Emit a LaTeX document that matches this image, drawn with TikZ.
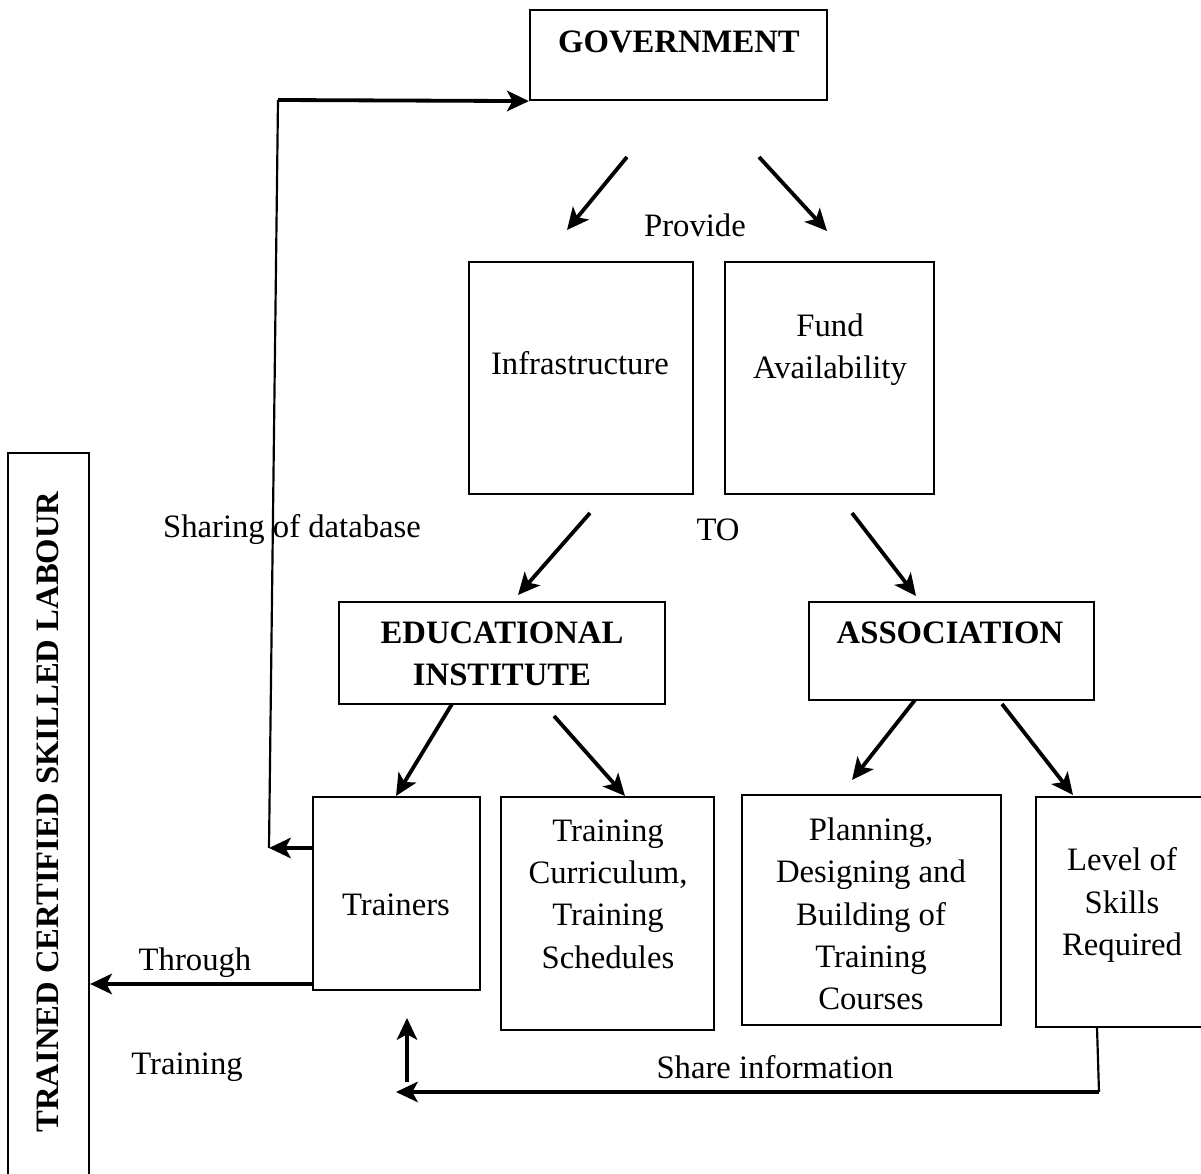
\documentclass[tikz,border=0pt]{standalone}
\usepackage{fontspec}
\setmainfont{Liberation Serif}
\usetikzlibrary{arrows.meta,fit}

\tikzset{
  box/.style={draw, line width=0.8pt, inner sep=0pt},
  txt/.style={align=center, inner sep=0pt, font=\fontsize{12}{15.5}\selectfont},
  headtxt/.style={txt, font=\fontsize{12}{15.5}\selectfont\bfseries},
  arr/.style={line width=1.4pt, -{Stealth[length=8pt,width=7.5pt,inset=2pt]}},
  thin line/.style={line width=0.8pt},
}

\begin{document}
\begin{tikzpicture}[x=0.367pt,y=-0.367pt]
		\useasboundingbox (0,0) rectangle (1201,1174);
		\clip (0,0) rectangle (1201,1174);

		% boxes
		\node [box, fit={(530,10) (827,100)}] (gov) {};
		\node [box, fit={(469,262) (693,494)}] (infra) {};
		\node [box, fit={(725,262) (934,494)}] (fund) {};
		\node [box, fit={(339,602) (665,704)}] (edu) {};
		\node [box, fit={(809,602) (1094,700)}] (assoc) {};
		\node [box, fit={(313,797) (480,990)}] (trainers) {};
		\node [box, fit={(501,797) (714,1030)}] (curric) {};
		\node [box, fit={(742,795) (1001,1025)}] (plan) {};
		\node [box, fit={(1036,797) (1215,1027)}] (level) {};
		\node [box, fit={(8,453) (89,1190)}] (labour) {};

		% texts
		\node [headtxt] (govtxt) at (679,42) {GOVERNMENT};
		\node [txt] (provide) at (695,225) {Provide};
		\node [txt] (infratxt) at (580,363) {Infrastructure};
		\node [txt] (fundtxt) at (830,350) {Fund\\Availability};
		\node [txt] (sharing) at (292,530) {Sharing of database};
		\node [txt] (to) at (718,530) {TO};
		\node [headtxt] (edutxt) at (502,654) {EDUCATIONAL\\INSTITUTE};
		\node [headtxt] (assoctxt) at (950,633) {ASSOCIATION};
		\node [txt] (trainerstxt) at (396,905) {Trainers};
		\node [txt] (curtxt) at (608,894) {Training\\Curriculum,\\Training\\Schedules};
		\node [txt] (plantxt) at (871,914) {Planning,\\Designing and\\Building of\\Training\\Courses};
		\node [txt] (leveltxt) at (1122,905) {Level of\\Skills\\Required};
		\node [txt] (through) at (195,963) {Through};
		\node [txt] (training) at (187,1067) {Training};
		\node [txt] (share) at (775,1067) {Share information};
		\node [headtxt, rotate=90] (labtxt) at (48,812) {TRAINED CERTIFIED SKILLED LABOUR};

		% arrow ends
		\coordinate (g1) at (627,157);  \coordinate (g2) at (567,230);
		\coordinate (g3) at (759,157);  \coordinate (g4) at (827,231);
		\coordinate (i1) at (590,513);  \coordinate (i2) at (518,595);
		\coordinate (f1) at (852,513);  \coordinate (f2) at (916,596);
		\coordinate (e1) at (452,704);  \coordinate (e2) at (396,796);
		\coordinate (e3) at (554,716);  \coordinate (e4) at (625,796);
		\coordinate (a1) at (915,700);  \coordinate (a2) at (852,780);
		\coordinate (a3) at (1002,704); \coordinate (a4) at (1073,795);

		\draw [arr] (g1) -- (g2);
		\draw [arr] (g3) -- (g4);
		\draw [arr] (i1) -- (i2);
		\draw [arr] (f1) -- (f2);
		\draw [arr] (e1) -- (e2);
		\draw [arr] (e3) -- (e4);
		\draw [arr] (a1) -- (a2);
		\draw [arr] (a3) -- (a4);

		% database back to government
		\coordinate (fbtop) at (278,100);
		\coordinate (fbbot) at (269,848);
		\draw [thin line] (fbtop) -- (fbbot);
		\draw [arr] (fbtop) -- (gov.south west);
		\draw [arr] (trainers.west |- fbbot) -- (fbbot);

		% trainers out to the labour box
		\coordinate (thr) at (313,984);
		\draw [arr] (thr) -- (labour.east |- thr);

		% information shared back
		\coordinate (lvl) at (1097,1027);
		\coordinate (shc) at (1099,1092);
		\coordinate (shend) at (396,1092);
		\coordinate (up) at (407,1082);
		\coordinate (uptip) at (407,1018);
		\draw [thin line] (lvl) -- (shc);
		\draw [arr] (shc) -- (shend);
		\draw [arr] (up) -- (uptip);

\end{tikzpicture}
\end{document}
